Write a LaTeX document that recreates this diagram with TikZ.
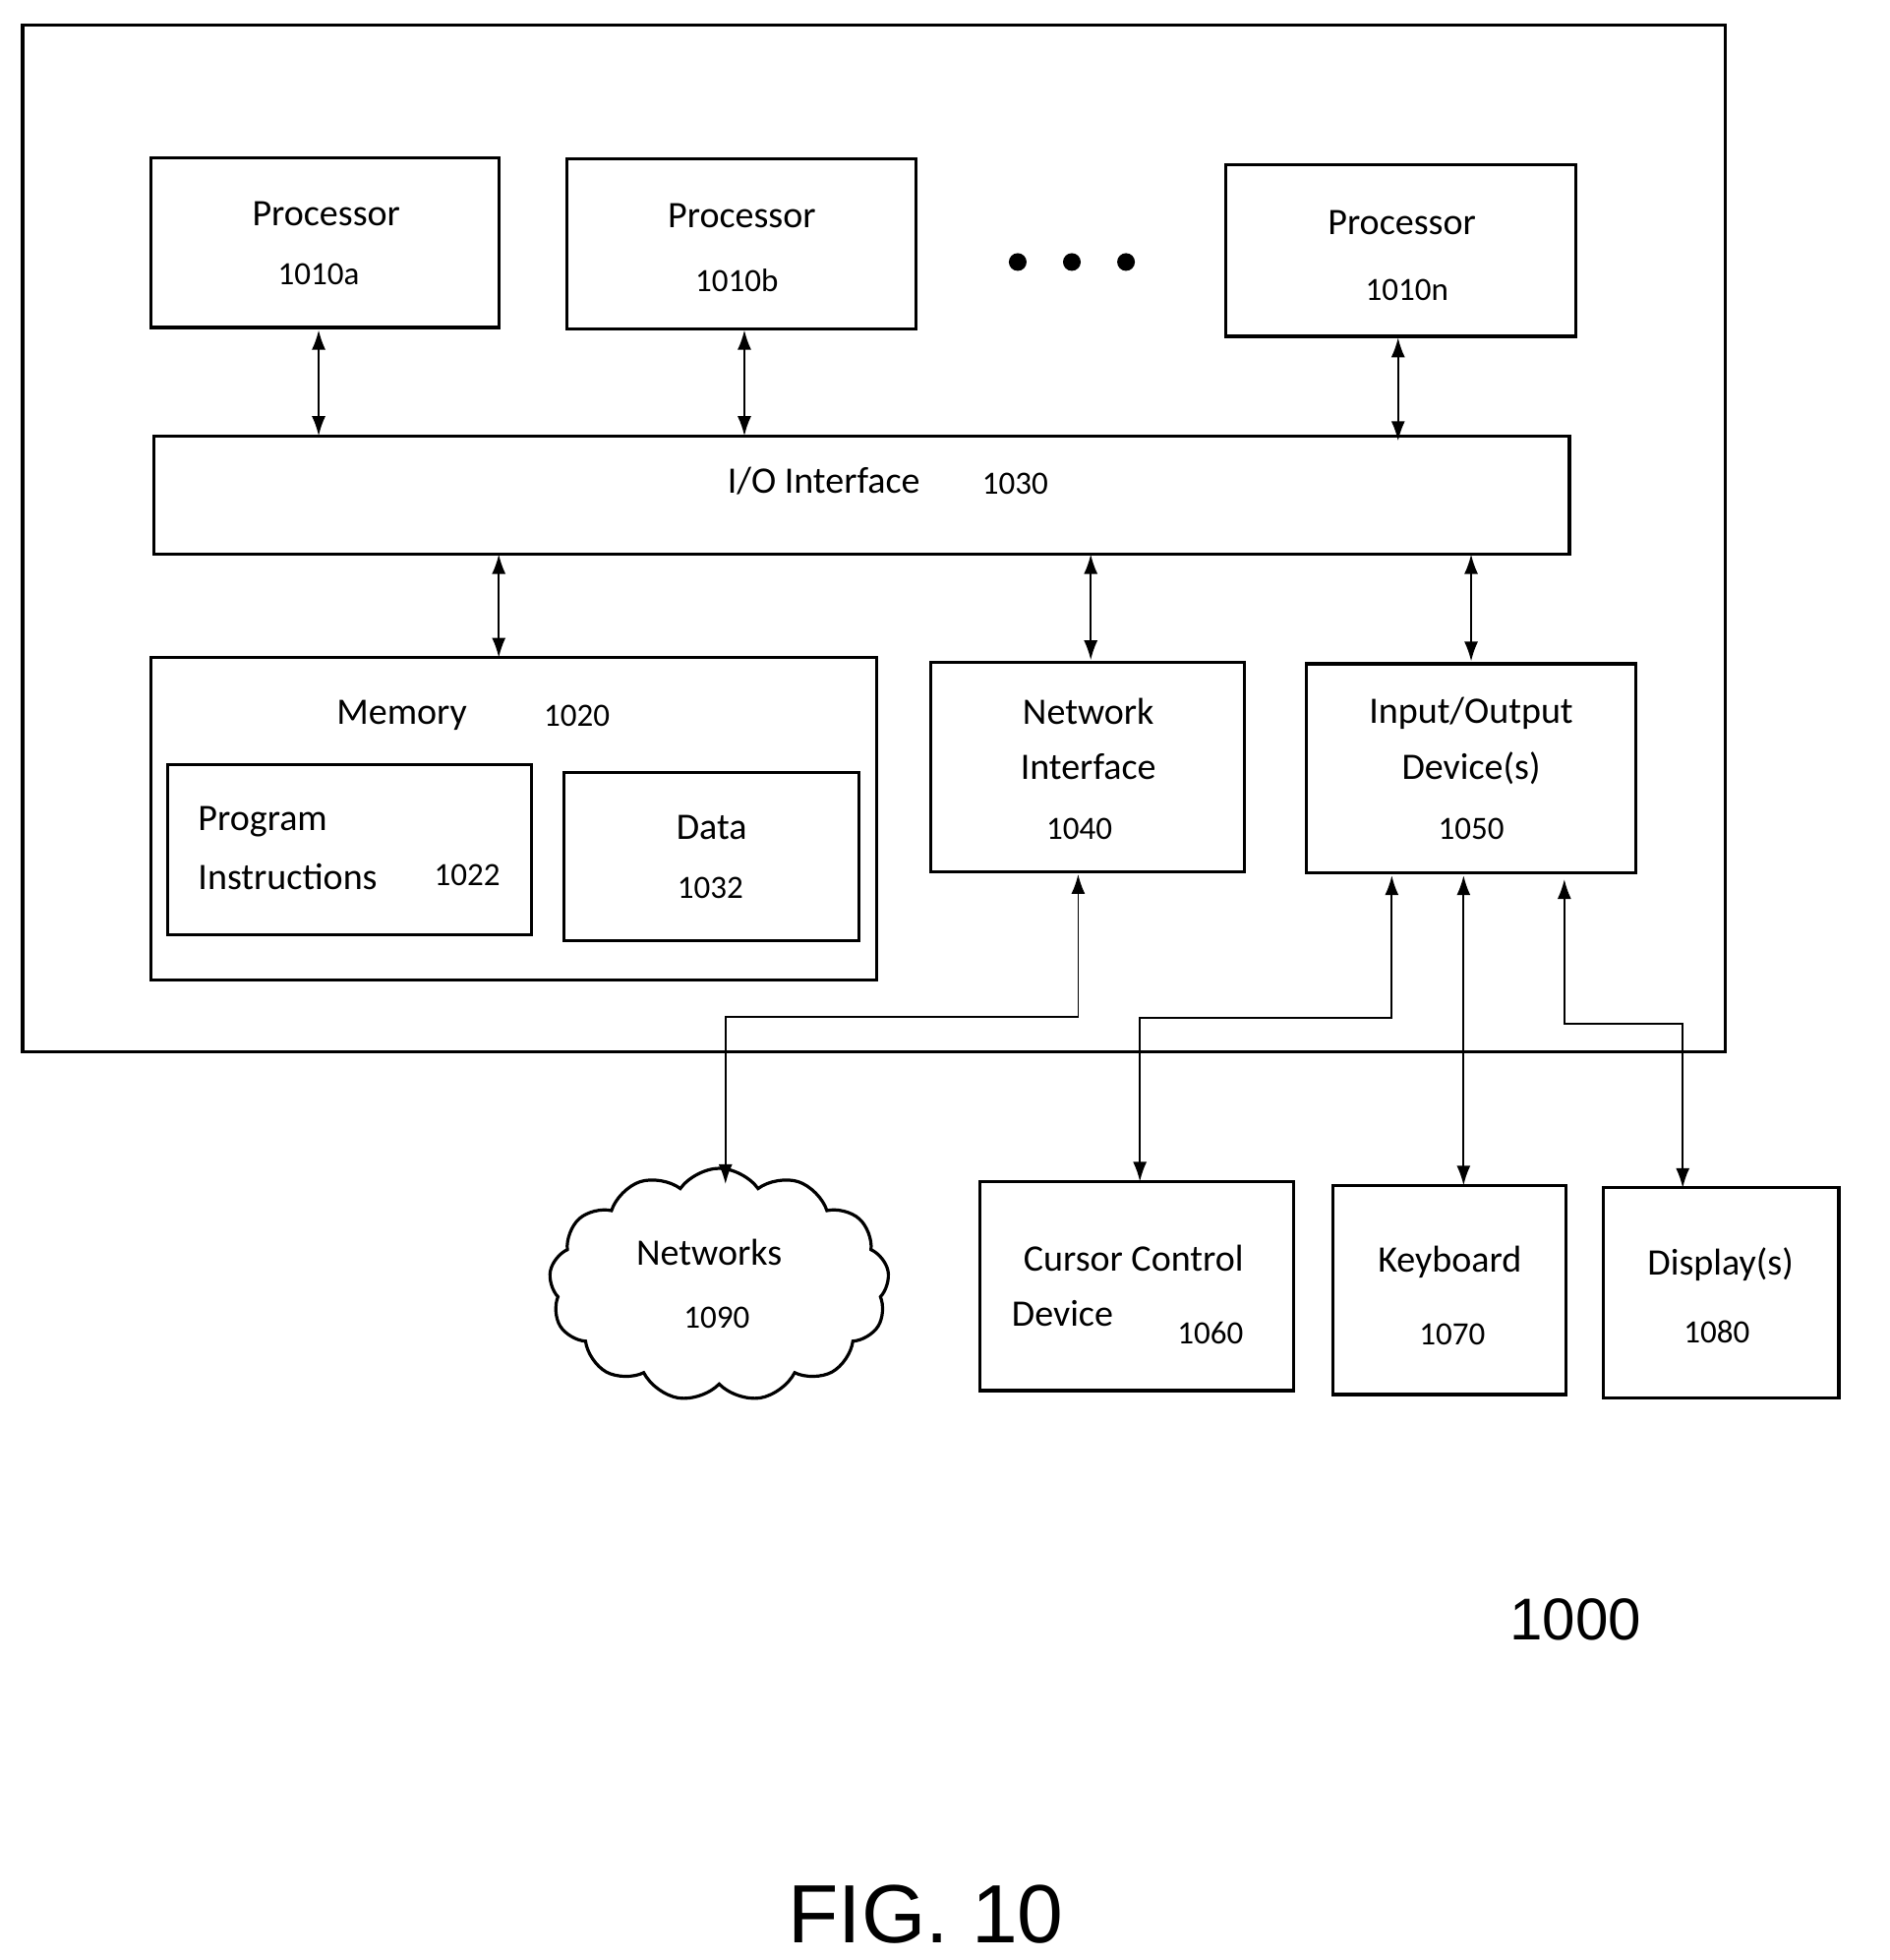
\documentclass[tikz,border=0pt]{standalone}
\usepackage{fontspec}
\setmainfont{Carlito}
\newfontfamily\figfont{Liberation Sans}
\usetikzlibrary{arrows.meta,shapes.symbols}
\begin{document}
\begin{tikzpicture}[x=0.64pt,y=-0.64pt,
  box/.style={draw,line width=1.6pt},
  lab/.style={font=\fontsize{19}{22}\selectfont,inner sep=0pt},
  num/.style={font=\fontsize{16.5}{20}\selectfont,inner sep=0pt},
  dbl/.style={line width=0.9pt,{Latex[length=10pt,width=7pt]}-{Latex[length=10pt,width=7pt]}},
  dot/.style={circle,fill,inner sep=0pt,minimum size=9pt}]
\useasboundingbox (0,0) rectangle (1500,1556);
\draw[box] (18,20) rectangle (1370,835);
% processors
\node[box,minimum width=276*0.64pt,minimum height=135*0.64pt] (pa) at (258,192.5) {};
\node[lab] at (259,170) {Processor};\node[num] at (253,218) {1010a};
\node[box,minimum width=277*0.64pt,minimum height=135*0.64pt] (pb) at (588.5,193.5) {};
\node[lab] at (589,171) {Processor};\node[num] at (585,223) {1010b};
\node[box,minimum width=278*0.64pt,minimum height=136*0.64pt] (pn) at (1112,199) {};
\node[lab] at (1113,177) {Processor};\node[num] at (1117,230) {1010n};
\node[dot] (d1) at (808,208) {};\node[dot] (d2) at (851,208) {};\node[dot] (d3) at (894,208) {};
% io interface
\node[box,minimum width=1124*0.64pt,minimum height=94*0.64pt] (io) at (684,393) {};
\node[lab] at (654,382) {I/O Interface};\node[num] at (806,384) {1030};
\draw[dbl] (253,262) -- (253,346);
\draw[dbl] (591,262) -- (591,346);
\draw[dbl] (1110,268) -- (1110,350);
% memory
\node[box,minimum width=576*0.64pt,minimum height=256*0.64pt] (mem) at (408,650) {};
\node[lab] at (319,568) {Memory};\node[num] at (458,568) {1020};
\node[box,minimum width=289*0.64pt,minimum height=135*0.64pt] (prog) at (277.5,674.5) {};
\node[lab,anchor=west] at (157,652) {Program};
\node[lab,anchor=west] at (157,696) {Instructions};\node[num] at (371,695) {1022};
\node[box,minimum width=234*0.64pt,minimum height=134*0.64pt] (data) at (565,680) {};
\node[lab] at (565,657) {Data};\node[num] at (564,705) {1032};
% network interface
\node[box,minimum width=249*0.64pt,minimum height=166*0.64pt] (ni) at (863.5,609) {};
\node[lab] at (864,565) {Network};\node[lab] at (864,609) {Interface};\node[num] at (857,658) {1040};
% io devices
\node[box,minimum width=262*0.64pt,minimum height=166*0.64pt] (iod) at (1168,610) {};
\node[lab] at (1168,566) {Input/Output};\node[lab] at (1168,610) {Device(s)};\node[num] at (1168,658) {1050};
\draw[dbl] (396,440) -- (396,522);
\draw[dbl] (866,440) -- (866,524);
\draw[dbl] (1168,440) -- (1168,525);
% cloud
\node[cloud,draw,line width=1.6pt,cloud puffs=13,cloud puff arc=110,aspect=1.5,minimum width=270*0.64pt,minimum height=185*0.64pt] (net) at (571,1020) {};
\node[lab] at (563,994) {Networks};\node[num] at (569,1046) {1090};
% bottom devices
\node[box,minimum width=249*0.64pt,minimum height=166*0.64pt] (cur) at (902.5,1021) {};
\node[lab] at (900,999) {Cursor Control};\node[lab,anchor=west] at (803,1043) {Device};\node[num] at (961,1058) {1060};
\node[box,minimum width=185*0.64pt,minimum height=166*0.64pt] (kb) at (1150.5,1024) {};
\node[lab] at (1151,1002) {Keyboard};\node[num] at (1153,1059) {1070};
\node[box,minimum width=187*0.64pt,minimum height=167*0.64pt] (disp) at (1366.5,1026.5) {};
\node[lab] at (1366,1004) {Display(s)};\node[num] at (1363,1057) {1080};
% connectors
\draw[dbl] (856,694) |- (716,807) -| (576,940);
\draw[dbl] (1105,695) |- (1000,808) -| (905,938);
\draw[dbl] (1162,695) -- (1162,941);
\draw[dbl] (1242,698) |- (1290,813) -| (1336,943);
\node[font=\figfont\fontsize{30}{34}\selectfont] (n1000) at (1251,1286) {1000};
\node[font=\figfont\fontsize{42}{46}\selectfont] (fig) at (735,1520) {FIG. 10};
\end{tikzpicture}
\end{document}
